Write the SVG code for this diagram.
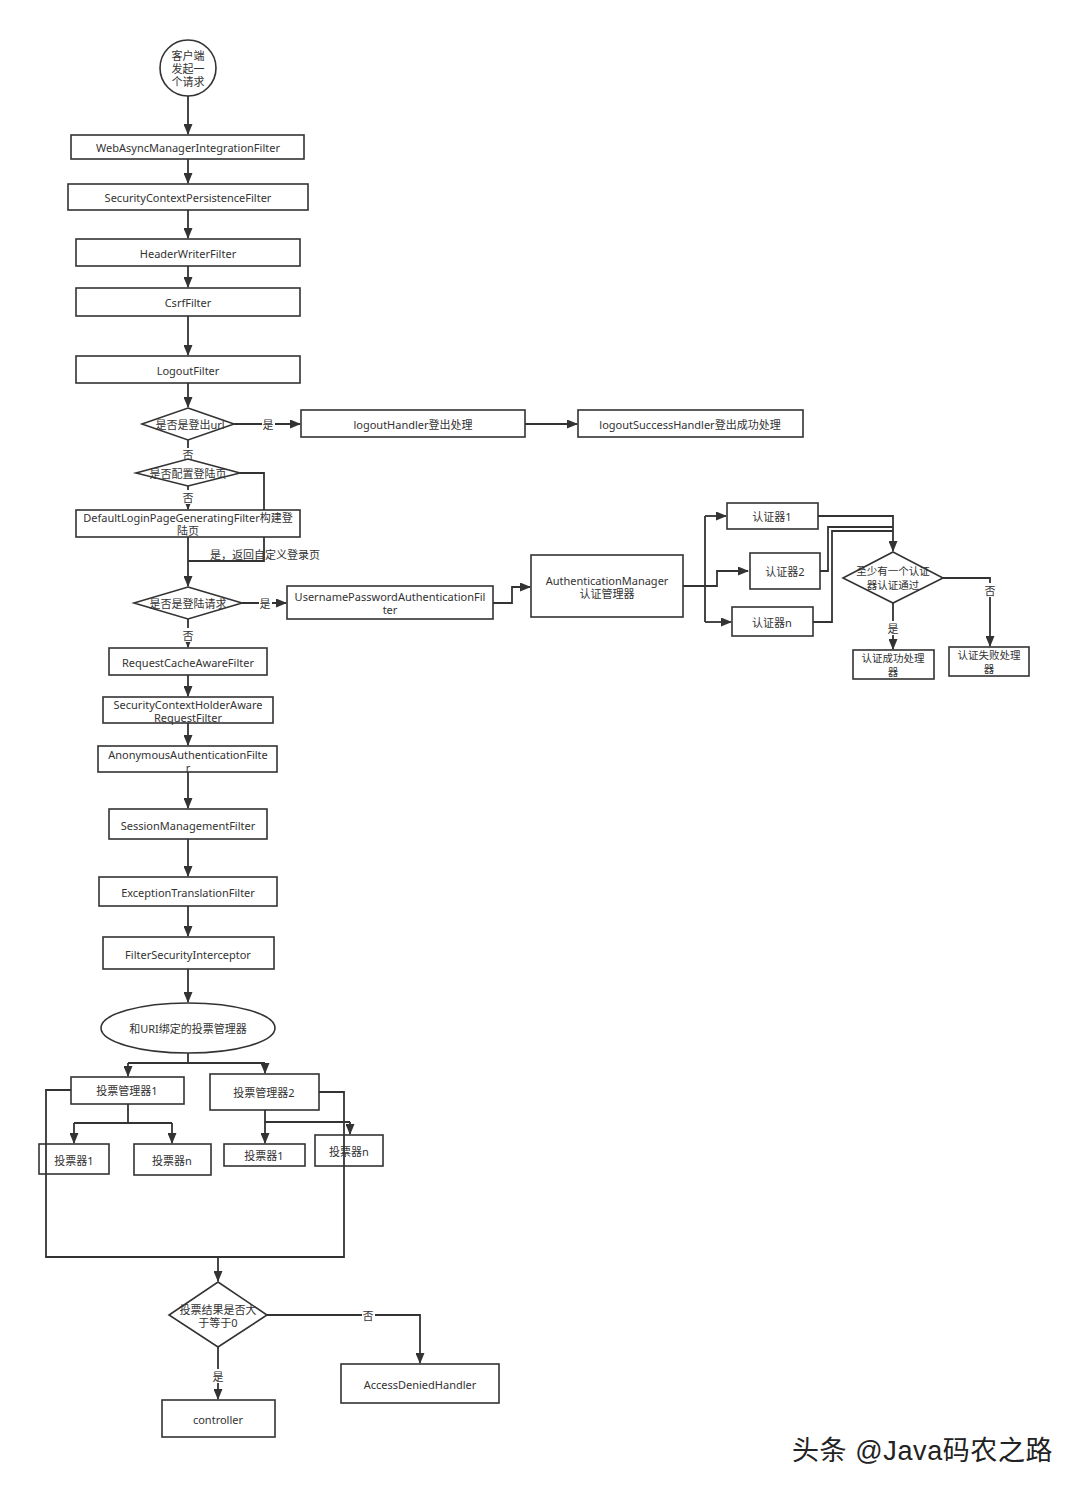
<svg xmlns="http://www.w3.org/2000/svg" width="1080" height="1488" viewBox="0 0 1080 1488">
<defs>
<marker id="ah" markerUnits="userSpaceOnUse" markerWidth="11" markerHeight="9" refX="10" refY="4.5" orient="auto"><path d="M0,0 L11,4.5 L0,9 z" fill="#333"/></marker>
<style>
.b{fill:#fff;stroke:#333;stroke-width:1.6}
.t{font-family:"Noto Sans","Noto Sans CJK SC",sans-serif;font-size:11px;fill:#333;text-anchor:middle;dominant-baseline:central}
.s{font-size:10.5px}
.c{fill:none;stroke:#333;stroke-width:1.8}
.a{marker-end:url(#ah)}
.lb{fill:#fff}
.wm{font-family:"Liberation Sans","Noto Sans CJK SC",sans-serif;font-size:27px;letter-spacing:0.6px;fill:#222}
</style>
</defs>
<rect width="1080" height="1488" fill="#fff"/>
<g id="connectors">
<path class="c a" d="M188,96 V134"/>
<path class="c a" d="M188,159 V183"/>
<path class="c a" d="M188,210 V238"/>
<path class="c a" d="M188,266 V287"/>
<path class="c a" d="M188,316 V355"/>
<path class="c a" d="M188,383 V407"/>
<path class="c a" d="M234,424 H300"/>
<path class="c a" d="M525,424 H577"/>
<path class="c" d="M188,440 V460"/>
<path class="c" d="M240,473 H264 V561 H188"/>
<path class="c a" d="M188,486 V509"/>
<path class="c a" d="M188,537 V586"/>
<path class="c a" d="M242,603 H286"/>
<path class="c a" d="M493,603 H512 V587 H530"/>
<path class="c" d="M683,586 H705 M705,516 V622"/>
<path class="c a" d="M705,516 H726"/>
<path class="c a" d="M705,586 H717 V571 H748"/>
<path class="c a" d="M705,622 H731"/>
<path class="c a" d="M818,516 H893 V551"/>
<path class="c" d="M820,571 H828 V527 H893"/>
<path class="c" d="M813,622 H832 V531 H893"/>
<path class="c a" d="M943,578 H990 V646"/>
<path class="c a" d="M893,603 V649"/>
<path class="c a" d="M188,619 V647"/>
<path class="c a" d="M188,675 V696"/>
<path class="c a" d="M188,723 V745"/>
<path class="c a" d="M188,772 V808"/>
<path class="c a" d="M188,839 V876"/>
<path class="c a" d="M188,906 V936"/>
<path class="c a" d="M188,969 V1002"/>
<path class="c" d="M188,1053 V1063 M128,1063 H265"/>
<path class="c a" d="M128,1063 V1076"/>
<path class="c a" d="M265,1063 V1073"/>
<path class="c" d="M128,1104 V1123 M74,1123 H172"/>
<path class="c a" d="M74,1123 V1143"/>
<path class="c a" d="M172,1123 V1143"/>
<path class="c" d="M265,1110 V1122 H350"/>
<path class="c a" d="M265,1122 V1143"/>
<path class="c a" d="M350,1122 V1134"/>
<path class="c a" d="M218,1257 V1281"/>
<path class="c a" d="M267,1315 H420 V1363"/>
<path class="c a" d="M218,1347 V1399"/>
<rect class="lb" x="262" y="417" width="13" height="14"/>
<text class="t" x="268" y="424">是</text>
<rect class="lb" x="182" y="448" width="13" height="12"/>
<text class="t" x="188" y="454">否</text>
<rect class="lb" x="182" y="490" width="13" height="14"/>
<text class="t" x="188" y="497">否</text>
<text class="t" x="265" y="554">是，返回自定义登录页</text>
<rect class="lb" x="259" y="596" width="13" height="14"/>
<text class="t" x="265" y="603">是</text>
<rect class="lb" x="182" y="628" width="13" height="14"/>
<text class="t" x="188" y="635">否</text>
<rect class="lb" x="984" y="583" width="13" height="14"/>
<text class="t" x="990" y="590">否</text>
<rect class="lb" x="887" y="621" width="13" height="14"/>
<text class="t" x="893" y="628">是</text>
<rect class="lb" x="362" y="1308" width="13" height="14"/>
<text class="t" x="368" y="1315">否</text>
<rect class="lb" x="212" y="1369" width="13" height="14"/>
<text class="t" x="218" y="1376">是</text>
</g>
<g id="start"><circle class="b" cx="188" cy="68" r="28"/><text class="t" x="188" y="55">客户端</text><text class="t" x="188" y="68">发起一</text><text class="t" x="188" y="81">个请求</text></g>
<g id="webasync"><rect class="b" x="71" y="135" width="233" height="24"/><text class="t" x="188" y="147">WebAsyncManagerIntegrationFilter</text></g>
<g id="scpf"><rect class="b" x="68" y="184" width="240" height="26"/><text class="t" x="188" y="197">SecurityContextPersistenceFilter</text></g>
<g id="header"><rect class="b" x="76" y="239" width="224" height="27"/><text class="t" x="188" y="253">HeaderWriterFilter</text></g>
<g id="csrf"><rect class="b" x="76" y="288" width="224" height="28"/><text class="t" x="188" y="302">CsrfFilter</text></g>
<g id="logout"><rect class="b" x="76" y="356" width="224" height="27"/><text class="t" x="188" y="370">LogoutFilter</text></g>
<g id="d-logouturl"><path class="b" d="M188,408 L234,424 L188,440 L142,424 Z"/><text class="t" x="190" y="424">是否是登出url</text></g>
<g id="logoutHandler"><rect class="b" x="301" y="410" width="224" height="27"/><text class="t" x="413" y="424">logoutHandler登出处理</text></g>
<g id="logoutSuccess"><rect class="b" x="578" y="410" width="225" height="27"/><text class="t" x="690" y="424">logoutSuccessHandler登出成功处理</text></g>
<g id="d-loginpage"><path class="b" d="M188,459 L240,473 L188,486 L136,473 Z"/><text class="t" x="188" y="473">是否配置登陆页</text></g>
<g id="defaultLogin"><rect class="b" x="76" y="510" width="224" height="27"/><text class="t" x="188" y="517">DefaultLoginPageGeneratingFilter构建登</text><text class="t" x="188" y="530">陆页</text></g>
<g id="d-loginreq"><path class="b" d="M188,587 L242,603 L188,619 L134,603 Z"/><text class="t" x="188" y="603">是否是登陆请求</text></g>
<g id="upaf"><rect class="b" x="287" y="586" width="206" height="33"/><text class="t" x="390" y="596">UsernamePasswordAuthenticationFil</text><text class="t" x="390" y="609">ter</text></g>
<g id="authmgr"><rect class="b" x="531" y="555" width="152" height="62"/><text class="t" x="607" y="580">AuthenticationManager</text><text class="t" x="607" y="593">认证管理器</text></g>
<g id="auth1"><rect class="b" x="727" y="503" width="91" height="26"/><text class="t" x="772" y="516">认证器1</text></g>
<g id="auth2"><rect class="b" x="750" y="553" width="70" height="36"/><text class="t" x="785" y="571">认证器2</text></g>
<g id="authn"><rect class="b" x="732" y="607" width="81" height="29"/><text class="t" x="772" y="622">认证器n</text></g>
<g id="d-auth"><path class="b" d="M893,552 L943,578 L893,603 L843,578 Z"/><text class="t s" x="893" y="571">至少有一个认证</text><text class="t s" x="893" y="585">器认证通过</text></g>
<g id="authOk"><rect class="b" x="853" y="650" width="81" height="29"/><text class="t s" x="893" y="658">认证成功处理</text><text class="t s" x="893" y="672">器</text></g>
<g id="authFail"><rect class="b" x="949" y="647" width="80" height="29"/><text class="t s" x="989" y="655">认证失败处理</text><text class="t s" x="989" y="669">器</text></g>
<g id="reqcache"><rect class="b" x="109" y="648" width="158" height="27"/><text class="t" x="188" y="662">RequestCacheAwareFilter</text></g>
<g id="schaf"><rect class="b" x="103" y="697" width="170" height="26"/><text class="t" x="188" y="704">SecurityContextHolderAware</text><text class="t" x="188" y="717">RequestFilter</text></g>
<g id="anon"><rect class="b" x="98" y="746" width="179" height="26"/><text class="t" x="188" y="754">AnonymousAuthenticationFilte</text><text class="t" x="188" y="767">r</text></g>
<g id="session"><rect class="b" x="109" y="809" width="158" height="30"/><text class="t" x="188" y="825">SessionManagementFilter</text></g>
<g id="exception"><rect class="b" x="99" y="877" width="178" height="29"/><text class="t" x="188" y="892">ExceptionTranslationFilter</text></g>
<g id="fsi"><rect class="b" x="103" y="937" width="171" height="32"/><text class="t" x="188" y="954">FilterSecurityInterceptor</text></g>
<g id="uriVote"><ellipse class="b" cx="188" cy="1028" rx="87" ry="25"/><text class="t" x="188" y="1028">和URI绑定的投票管理器</text></g>
<g id="vm1"><rect class="b" x="71" y="1077" width="113" height="27"/><text class="t" x="127" y="1090">投票管理器1</text></g>
<g id="vm2"><rect class="b" x="210" y="1074" width="109" height="36"/><text class="t" x="264" y="1092">投票管理器2</text></g>
<g id="v11"><rect class="b" x="39" y="1144" width="70" height="30"/><text class="t" x="74" y="1160">投票器1</text></g>
<g id="v1n"><rect class="b" x="134" y="1144" width="77" height="31"/><text class="t" x="172" y="1160">投票器n</text></g>
<g id="v21"><rect class="b" x="224" y="1144" width="81" height="22"/><text class="t" x="264" y="1155">投票器1</text></g>
<g id="v2n"><rect class="b" x="315" y="1135" width="68" height="31"/><text class="t" x="349" y="1151">投票器n</text></g>
<g id="loop"><path class="c" d="M71,1090 H46 V1257 H344 V1092 H319"/></g>
<g id="d-vote"><path class="b" d="M218,1282 L267,1315 L218,1347 L169,1315 Z"/><text class="t" x="218" y="1309">投票结果是否大</text><text class="t" x="218" y="1322">于等于0</text></g>
<g id="denied"><rect class="b" x="341" y="1364" width="158" height="39"/><text class="t" x="420" y="1384">AccessDeniedHandler</text></g>
<g id="controller"><rect class="b" x="162" y="1400" width="113" height="37"/><text class="t" x="218" y="1419">controller</text></g>
<text class="wm" x="792" y="1460">头条 @Java码农之路</text>
</svg>
